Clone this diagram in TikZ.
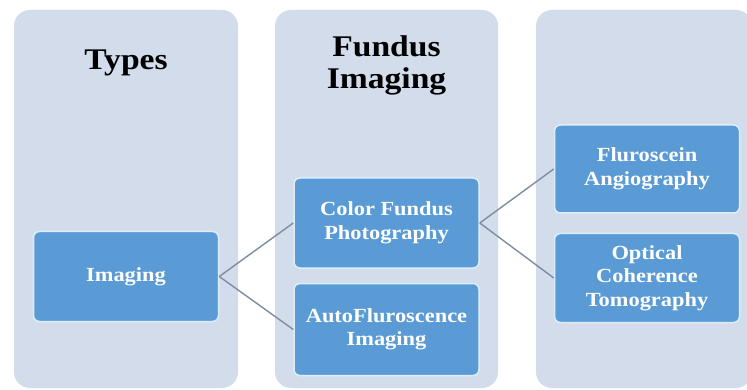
\documentclass[tikz,border=0pt]{standalone}
\usepackage{fontspec}
\setmainfont{Liberation Serif}[FakeStretch=1.12]
\usetikzlibrary{positioning}
\usepackage{xcolor}
\definecolor{panelblue}{HTML}{D2DCEB}
\definecolor{boxblue}{HTML}{5B9BD5}
\definecolor{boxedge}{HTML}{DCEEFB}
\definecolor{linkgray}{HTML}{7C8DA4}

\begin{document}
\begin{tikzpicture}[
      x=1pt, y=-1pt,
      panel/.style = {fill=panelblue, rounded corners=16pt},
      title/.style = {align=center, text=black, font=\bfseries\fontsize{30}{32}\selectfont},
      item/.style  = {fill=boxblue, draw=boxedge, line width=1.5pt, rounded corners=6pt,
                      text=white, align=center, inner sep=2pt,
                      minimum width=185pt, minimum height=90pt,
                      font=\bfseries\fontsize{20}{23.5}\selectfont},
      link/.style  = {draw=linkgray, line width=1.4pt}
    ]
    \useasboundingbox (0,0) rectangle (747,390);
    \fill[white] (0,0) rectangle (747,390);

    % columns
    \fill[panel] (14,10) rectangle (238,388);
    \fill[panel] (275,10) rectangle (498,388);
    \fill[panel] (536,10) rectangle (752,388);

    \node[title] (types)  at (126,63)   {Types};
    \node[title] (fundus) at (386.5,65) {Fundus\\Imaging};

    % boxes
    \node[item] (img) at (126,276.5) {Imaging};
    \node[item] (cfp) at (386.5,223) {Color Fundus\\Photography};
    \node[item, below=14pt of cfp, minimum height=92pt] (afi) {AutoFluroscence\\Imaging};
    \node[item, minimum height=88pt] (fa) at (647,169) {Fluroscein\\Angiography};
    \node[item, below=19pt of fa, minimum height=89pt] (oct) {Optical\\Coherence\\Tomography};

    \draw[link] (img.east) -- (cfp.west);
    \draw[link] (img.east) -- (afi.west);
    \draw[link] (cfp.east) -- (fa.west);
    \draw[link] (cfp.east) -- (oct.west);
  \end{tikzpicture}
\end{document}
